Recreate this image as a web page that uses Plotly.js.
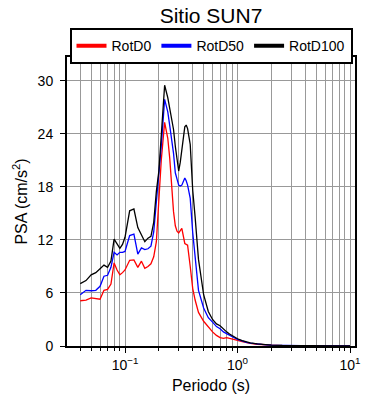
<!DOCTYPE html>
<html><head><meta charset="utf-8">
<script src="https://cdn.plot.ly/plotly-3.0.1.min.js"></script>
<style>html,body{margin:0;padding:0;background:#fff}#g{width:390px;height:400px}</style>
</head><body><div id="g"></div>
<script>
const periods = [0.04,0.045,0.05,0.055,0.06,0.065,0.07,0.075,0.08,0.085,0.09,0.095,0.1,0.11,0.12,0.13,0.14,0.15,0.16,0.17,0.18,0.19,0.2,0.21,0.225,0.24,0.25,0.26,0.27,0.28,0.29,0.3,0.31,0.32,0.34,0.35,0.36,0.38,0.4,0.42,0.45,0.5,0.55,0.6,0.65,0.7,0.75,0.8,0.85,0.9,1.0,1.1,1.2,1.3,1.5,1.7,2.0,2.5,3,4,5,6,7,8,10];
const rotD0 = [5.12,5.2,5.45,5.35,5.3,6.3,6.4,7.0,9.4,8.6,8.05,8.3,8.6,9.7,9.75,8.9,9.6,8.8,9.0,9.3,10.1,11.8,16.5,21.0,25.3,23.5,21.2,17.8,15.2,13.6,13.0,12.8,13.1,13.3,11.6,11.5,11.4,9.0,6.5,5.2,3.8,2.8,2.1,1.6,1.2,0.95,0.87,0.95,0.85,0.8,0.65,0.5,0.38,0.3,0.2,0.14,0.09,0.05,0.035,0.02,0.015,0.01,0.008,0.007,0.005];
const rotD50 = [5.8,6.3,6.25,6.3,6.75,7.9,8.0,8.9,10.6,10.3,10.6,10.6,10.7,12.5,12.65,10.4,11.1,10.9,11.0,11.3,12.9,16.0,19.0,22.6,27.9,26.5,24.9,23.3,21.8,19.6,18.7,18.2,18.1,18.2,19.0,18.7,18.2,16.7,12.8,9.8,6.3,4.3,3.2,2.7,2.2,1.95,1.6,1.4,1.25,1.05,0.75,0.55,0.42,0.33,0.22,0.15,0.1,0.06,0.04,0.025,0.018,0.013,0.01,0.008,0.006];
const rotD100 = [7.05,7.4,8.05,8.3,8.75,9.15,8.9,9.6,12.1,11.6,11.05,11.5,12.3,15.3,15.5,13.4,12.6,11.8,12.2,12.4,14.0,17.5,19.8,23.8,29.5,28.1,26.9,25.7,24.5,22.6,21.0,19.8,20.8,22.2,24.8,25.0,24.6,22.8,17.6,14.6,9.8,5.8,3.9,3.0,2.5,2.3,1.9,1.6,1.35,1.15,0.82,0.6,0.46,0.36,0.25,0.17,0.11,0.07,0.05,0.03,0.02,0.015,0.012,0.01,0.008];
const seriesNames = ['RotD0','RotD50','RotD100'];
const seriesColors = ['#ff0000','#0000ff','#000000'];
const xMajor = [0.1,1,10];
const xMajorText = ['10<sup>−1</sup>','10<sup>0</sup>','10<sup>1</sup>'];
const xMinor = [0.04,0.05,0.06,0.07,0.08,0.09,0.2,0.3,0.4,0.5,0.6,0.7,0.8,0.9,2,3,4,5,6,7,8,9];
const yTicks = [0,6,12,18,24,30];

const vals = [rotD0, rotD50, rotD100];
const traces = [];
vals.forEach((v,i)=>{
  traces.push({x:periods,y:v,type:'scatter',mode:'lines',line:{color:seriesColors[i],width:1.3},showlegend:false,hoverinfo:'skip'});
});
vals.forEach((v,i)=>{
  traces.push({x:[null],y:[null],type:'scatter',mode:'lines',name:seriesNames[i],line:{color:seriesColors[i],width:4}});
});
const F = 'Liberation Sans, Arial, Helvetica, sans-serif';
const layout = {
  width:390,height:400,
  margin:{l:67,r:35,t:57,b:54,pad:0},
  paper_bgcolor:'#fff',plot_bgcolor:'#fff',
  font:{family:F,color:'#000',size:14},
  title:{text:'Sitio SUN7',font:{size:21,family:F,color:'#000'},x:0.5,xref:'paper',xanchor:'center',y:0.962,yref:'container',yanchor:'middle'},
  showlegend:true,
  legend:{orientation:'h',x:0.5,xanchor:'center',y:1.1,yanchor:'top',bordercolor:'#000',borderwidth:2,font:{size:14,family:F},tracegroupgap:0,itemwidth:30},
  xaxis:{type:'log',range:[-1.5156,1.0444],tickmode:'array',tickvals:xMajor,ticktext:xMajorText,
    ticks:'outside',ticklen:5,tickcolor:'#000',tickwidth:1,showline:true,linecolor:'#000',linewidth:2,mirror:'allticks',
    showgrid:true,gridcolor:'#999',gridwidth:1,zeroline:false,tickfont:{size:14,family:F},
    minor:{tickvals:xMinor,ticks:'outside',ticklen:3,tickcolor:'#000',showgrid:true,gridcolor:'#999',gridwidth:1},
    title:{text:'Periodo (s)',font:{size:16,family:F},standoff:8}},
  yaxis:{range:[0,32.7],tickmode:'array',tickvals:yTicks,ticks:'outside',ticklen:5,tickcolor:'#000',
    showline:true,linecolor:'#000',linewidth:2,mirror:true,showgrid:true,gridcolor:'#999',gridwidth:1,zeroline:false,
    tickfont:{size:14,family:F},ticklabelstandoff:4,
    title:{text:'PSA (cm/s<sup>2</sup>)',font:{size:16,family:F},standoff:6}}
};
Plotly.newPlot('g',traces,layout,{staticPlot:true,displayModeBar:false});
</script></body></html>
